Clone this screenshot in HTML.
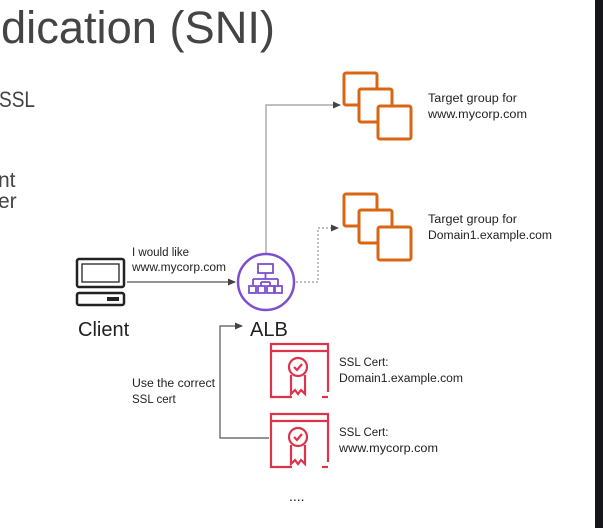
<!DOCTYPE html>
<html><head><meta charset="utf-8"><style>
body{margin:0;width:603px;height:528px;overflow:hidden;background:#fff;font-family:"Liberation Sans",sans-serif;}
</style></head><body>
<svg width="603" height="528" viewBox="0 0 603 528" xmlns="http://www.w3.org/2000/svg" style="position:absolute;left:0;top:0">
<defs>
<marker id="ah" markerWidth="8" markerHeight="8" refX="7" refY="4" orient="auto" markerUnits="userSpaceOnUse"><path d="M0,0.5 L8,4 L0,7.5 z" fill="#444"/></marker>
</defs>
<rect x="595" y="0" width="8" height="528" fill="#16161a"/>
<g fill="#444" font-family="Liberation Sans, sans-serif">
<text x="1" y="43" font-size="45" textLength="274" lengthAdjust="spacingAndGlyphs">dication (SNI)</text>
<text x="-1" y="107" font-size="22" textLength="36" lengthAdjust="spacingAndGlyphs">SSL</text>
<text x="-2" y="187" font-size="21">nt</text>
<text x="-2" y="208" font-size="21">er</text>
</g>
<path d="M266,253 V105 H340" fill="none" stroke="#999" stroke-width="1.2" marker-end="url(#ah)"/>
<path d="M296,282 H318 V228 H338" fill="none" stroke="#999" stroke-width="1.2" stroke-dasharray="2,2" marker-end="url(#ah)"/>
<path d="M127,282 H235" fill="none" stroke="#555" stroke-width="1.2" marker-end="url(#ah)"/>
<path d="M269,438 H220 V326 H242" fill="none" stroke="#555" stroke-width="1.2" marker-end="url(#ah)"/>
<g fill="#fff" stroke="#d86613" stroke-width="3">
<rect x="344" y="73" width="33" height="32" rx="2"/>
<rect x="359" y="89" width="33" height="33" rx="2"/>
<rect x="378" y="106" width="33" height="33" rx="2"/>
<rect x="344" y="194" width="33" height="32" rx="2"/>
<rect x="359" y="210" width="33" height="33" rx="2"/>
<rect x="378" y="227" width="33" height="33" rx="2"/>
</g>
<g font-size="11.5" fill="#222">
<text x="428" y="102" textLength="89" lengthAdjust="spacingAndGlyphs">Target group for</text>
<text x="428" y="118" textLength="99" lengthAdjust="spacingAndGlyphs">www.mycorp.com</text>
<text x="428" y="223" textLength="89" lengthAdjust="spacingAndGlyphs">Target group for</text>
<text x="428" y="239" textLength="124" lengthAdjust="spacingAndGlyphs">Domain1.example.com</text>
</g>
<circle cx="266" cy="282" r="28" fill="#fff" stroke="#7d4fd0" stroke-width="2.5"/>
<g fill="none" stroke="#7d4fd0" stroke-width="1.8">
<rect x="258" y="264" width="15" height="9"/>
<path d="M265.5,273 V279 M253,279 H278 M253,279 V286 M278,279 V286 M261,282 V286 M270,282 V286 M261,282 H270"/>
<rect x="249" y="286" width="7" height="7"/><rect x="258" y="286" width="7" height="7"/><rect x="267" y="286" width="7" height="7"/><rect x="275" y="286" width="7" height="7"/>
</g>
<rect x="77" y="259" width="47" height="28" rx="2" fill="none" stroke="#222" stroke-width="2.5"/>
<rect x="82" y="264" width="37" height="18" fill="none" stroke="#222" stroke-width="1.3"/>
<rect x="77" y="293" width="47" height="12" rx="2" fill="none" stroke="#222" stroke-width="2.5"/>
<rect x="107" y="297" width="12" height="4" fill="#222"/>
<g fill="#222">
<text x="132" y="256" font-size="11.5" textLength="57" lengthAdjust="spacingAndGlyphs">I would like</text>
<text x="132" y="271" font-size="11.5" textLength="94" lengthAdjust="spacingAndGlyphs">www.mycorp.com</text>
<text x="78" y="336" font-size="20">Client</text>
<text x="250" y="336" font-size="20">ALB</text>
<text x="132" y="387" font-size="11.5" textLength="83" lengthAdjust="spacingAndGlyphs">Use the correct</text>
<text x="132" y="403" font-size="11.5">SSL cert</text>
<text x="339" y="366" font-size="11.5">SSL Cert:</text>
<text x="339" y="382" font-size="11.5" textLength="124" lengthAdjust="spacingAndGlyphs">Domain1.example.com</text>
<text x="339" y="436" font-size="11.5">SSL Cert:</text>
<text x="339" y="452" font-size="11.5" textLength="99" lengthAdjust="spacingAndGlyphs">www.mycorp.com</text>
<text x="289" y="501" font-size="14">....</text>
</g>
<g fill="none" stroke="#dd344c" stroke-width="2.2">
<g>
<path d="M292,397 H271 V344 H328 V392 M322,397 H328"/>
<path d="M271,351 H328"/>
<circle cx="298" cy="367" r="9"/>
<path d="M294,367 l3,3 l5,-6"/>
<path d="M291,375 V394 L295,390 L298,394 L301,390 L305,394 V375"/>
</g>
<g transform="translate(0,70)">
<path d="M292,397 H271 V344 H328 V392 M322,397 H328"/>
<path d="M271,351 H328"/>
<circle cx="298" cy="367" r="9"/>
<path d="M294,367 l3,3 l5,-6"/>
<path d="M291,375 V394 L295,390 L298,394 L301,390 L305,394 V375"/>
</g>
</g>
</svg>
</body></html>
